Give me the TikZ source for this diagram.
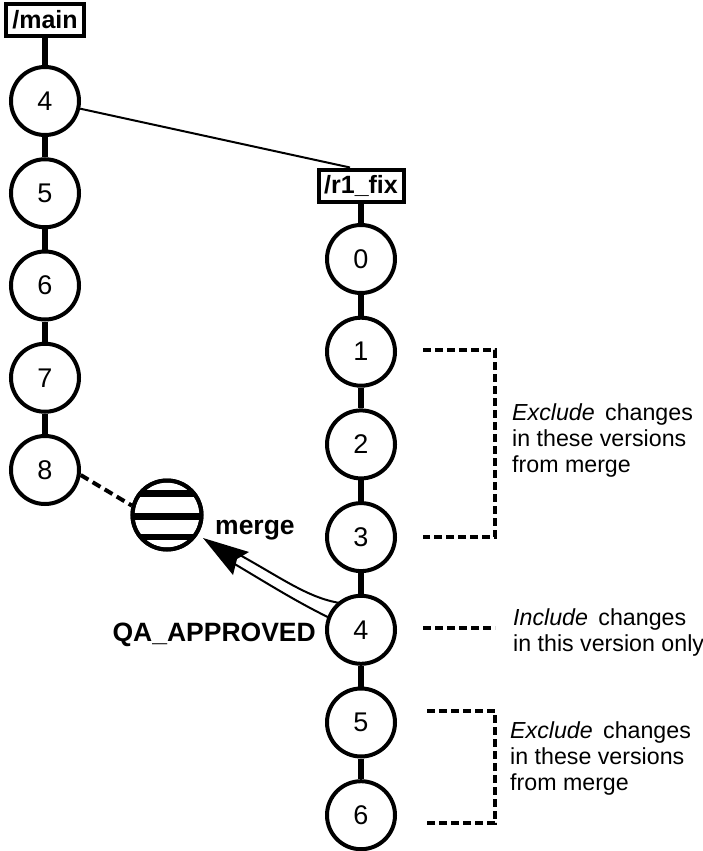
\documentclass[tikz,border=0pt]{standalone}
\usepackage{fontspec}
\setmainfont{Liberation Sans}
\usetikzlibrary{backgrounds}
\begin{document}
\begin{tikzpicture}[x=1pt,y=-1pt,
  ver/.style={circle, draw, line width=4pt, fill=white, minimum size=68pt, inner sep=0pt, font=\fontsize{27}{30}\selectfont},
  brbox/.style={draw, line width=4pt, fill=white, inner sep=0pt, minimum height=32pt, font=\bfseries\fontsize{25}{30}\selectfont},
  stem/.style={line width=6pt},
  brk/.style={line width=4pt, dash pattern=on 8pt off 4pt},
  note/.style={align=left, anchor=north west, inner sep=0pt, font=\fontsize{23.2}{26}\selectfont},
  lbl/.style={font=\bfseries\fontsize{26.5}{30}\selectfont, inner sep=0pt}
]
\useasboundingbox (0,0) rectangle (703,851);

% main branch
\node[brbox, minimum width=78pt] (main) at (45,20) {/main};
\node[ver] (m4) at (45,101) {4};
\node[ver] (m5) at (45,193.25) {5};
\node[ver] (m6) at (45,285.5) {6};
\node[ver] (m7) at (45,377.75) {7};
\node[ver] (m8) at (45,470) {8};

% r1_fix branch
\node[brbox, minimum width=85pt] (fix) at (361,185.5) {/r1\_fix};
\node[ver] (r0) at (361,259) {0};
\node[ver] (r1) at (361,351.7) {1};
\node[ver] (r2) at (361,444.4) {2};
\node[ver] (r3) at (361,537.1) {3};
\node[ver] (r4) at (361,629.8) {4};
\node[ver] (r5) at (361,722.5) {5};
\node[ver] (r6) at (361,815.2) {6};

% merge sphere
\node[circle, draw, line width=4pt, fill=white, minimum size=69pt, inner sep=0pt] (merge) at (167,515) {};
\begin{scope}
  \clip (merge.center) circle (35pt);
  \fill (125,490) rectangle (210,496.5);
  \fill (125,512.5) rectangle (210,519.5);
  \fill (125,533.5) rectangle (210,540);
\end{scope}
\draw[line width=4pt] (merge.center) circle (34.5pt);

\node[lbl, anchor=base west] (mergelbl) at (215,534) {merge};
\node[lbl, anchor=base east] (qa) at (316,641) {QA\_APPROVED};

\begin{scope}[on background layer]
  \draw[stem] (main.south) -- (m4.north);
  \draw[stem] (m4.south) -- (m5.north);
  \draw[stem] (m5.south) -- (m6.north);
  \draw[stem] (m6.south) -- (m7.north);
  \draw[stem] (m7.south) -- (m8.north);
  \draw[stem] (fix.south) -- (r0.north);
  \draw[stem] (r0.south) -- (r1.north);
  \draw[stem] (r1.south) -- (r2.north);
  \draw[stem] (r2.south) -- (r3.north);
  \draw[stem] (r3.south) -- (r4.north);
  \draw[stem] (r4.south) -- (r5.north);
  \draw[stem] (r5.south) -- (r6.north);
  % branch line
  \draw[line width=2pt] (m4) -- ([xshift=-11pt]fix.north);
  % merge arrow shaft
  \coordinate (a1) at (238,554);
  \coordinate (a2) at (233,563);
  \coordinate (b1) at (340,603);
  \coordinate (b2) at (336,621);
  \draw[line width=2pt, fill=white] (a1) .. controls (280,577) and (308,598) .. (b1) -- (b2) .. controls (300,604) and (270,585) .. (a2) -- cycle;
\end{scope}

% arrowhead
\coordinate (tip) at (203,538);
\coordinate (w1) at (249,552);
\coordinate (notch) at (237,559);
\coordinate (w2) at (233,575);
\fill (tip) -- (w1) -- (notch) -- (w2) -- cycle;

% dashed link to merge
\draw[line width=4pt, dash pattern=on 9pt off 5pt] (m8.-8) -- (merge.165);

% brackets
\coordinate (t1a) at (423,350);
\coordinate (t1b) at (495,350);
\coordinate (t1c) at (495,537);
\coordinate (t1d) at (423,537);
\draw[brk] (t1a) -- (t1b) -- (t1c) -- (t1d);
\coordinate (i1a) at (423,628);
\coordinate (i1b) at (495,628);
\draw[brk] (i1a) -- (i1b);
\coordinate (t2a) at (427,711);
\coordinate (t2b) at (495,711);
\coordinate (t2c) at (495,823);
\coordinate (t2d) at (427,823);
\draw[brk] (t2a) -- (t2b) -- (t2c) -- (t2d);

\node[note] (n1) at (512,403) {\textit{Exclude}\hspace{0.45em}changes\\in these versions\\from merge};
\node[note] (n2) at (513,608) {\textit{Include}\hspace{0.45em}changes\\in this version only};
\node[note] (n3) at (510,721) {\textit{Exclude}\hspace{0.45em}changes\\in these versions\\from merge};
\end{tikzpicture}
\end{document}
